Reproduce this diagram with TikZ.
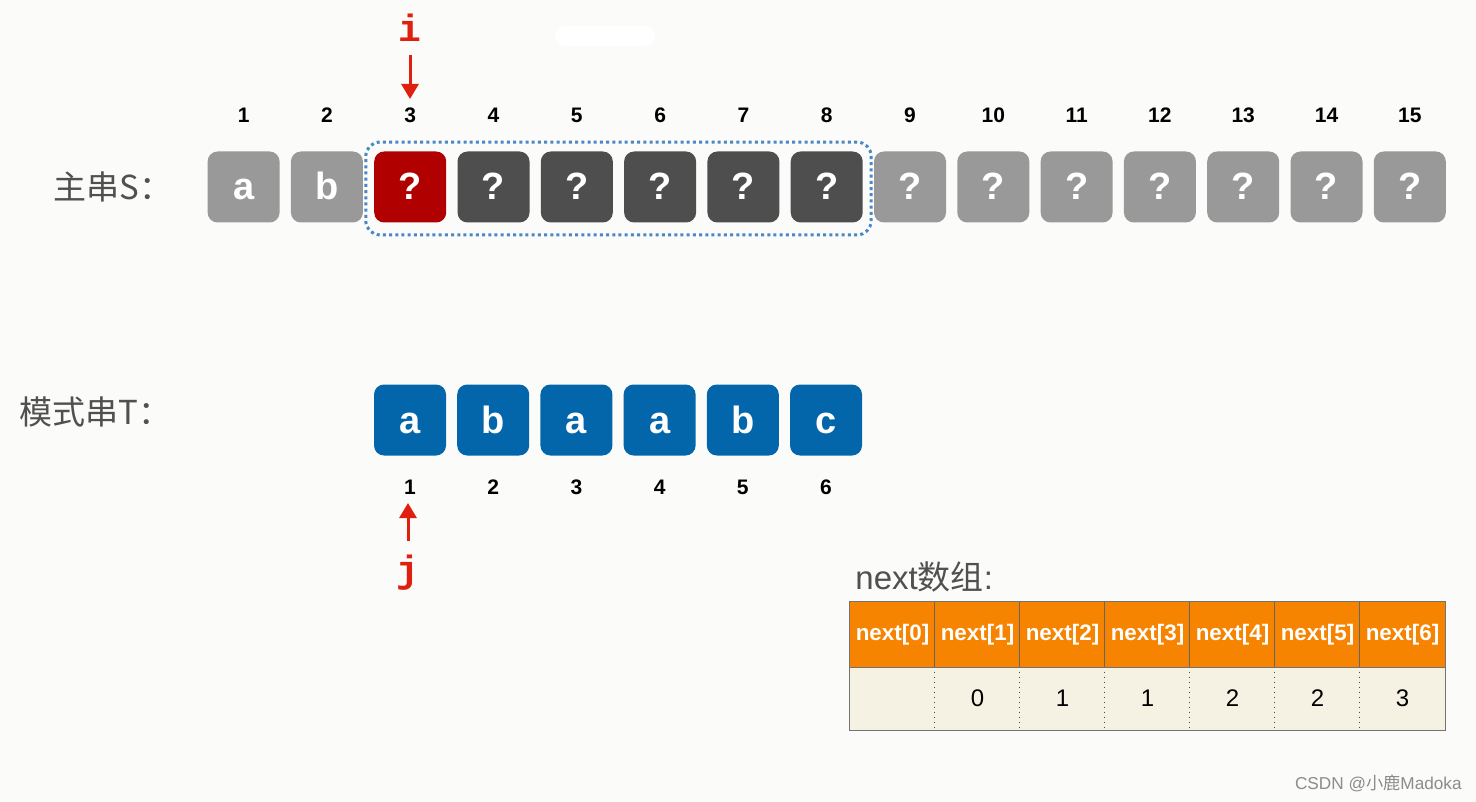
\documentclass[tikz,border=0pt]{standalone}
\usepackage{fontspec}
\setmainfont{Liberation Sans}
\newfontfamily\cjk{Noto Sans CJK SC}
\newfontfamily\monof{Liberation Mono}
\usetikzlibrary{fit,arrows.meta}
\definecolor{bg}{HTML}{FBFBF9}
\definecolor{lgray}{HTML}{999999}
\definecolor{dgray}{HTML}{4E4E4E}
\definecolor{dred}{HTML}{B10000}
\definecolor{tblue}{HTML}{0466AA}
\definecolor{wblue}{HTML}{4A87C6}
\definecolor{arred}{HTML}{E0200E}
\definecolor{orng}{HTML}{F78400}
\definecolor{beige}{HTML}{F6F2E3}
\definecolor{txtg}{HTML}{505050}
\tikzset{
  cell/.style={rounded corners=5pt, minimum width=36pt, minimum height=35.5pt, inner sep=0pt,
    text height=13pt, text depth=0pt,
    text=white, font=\bfseries\fontsize{19}{19}\selectfont},
  num/.style={font=\bfseries\fontsize{10.5}{10.5}\selectfont, inner sep=0pt},
  lbl/.style={font=\cjk\fontsize{16.5}{16.5}\selectfont, text=txtg, inner sep=0pt},
  ptr/.style={font=\monof\bfseries\fontsize{19}{19}\selectfont, text=arred, inner sep=0pt},
  arr/.style={draw=arred, line width=1.5pt, -{Triangle[width=8.5pt,length=7.5pt]}},
  hd/.style={fill=orng, minimum width=42.5pt, minimum height=32.5pt, inner sep=0pt,
    text=white, font=\bfseries\fontsize{11.2}{11.2}\selectfont},
  bd/.style={fill=beige, minimum width=42.5pt, minimum height=31.5pt, inner sep=0pt,
    font=\fontsize{12}{12}\selectfont},
}
\begin{document}
\begin{tikzpicture}[x=0.5pt,y=-0.5pt]
\fill[bg] (0,0) rectangle (1476,802);
\useasboundingbox (0,0) rectangle (1476,802);
\fill[white, rounded corners=5pt] (555,26) rectangle (655,46);

% main string S
\node[lbl, anchor=west] (labS) at (53,187) {主串S：};
\foreach \k/\t/\c in {1/a/lgray,2/b/lgray,3/?/dred,4/?/dgray,5/?/dgray,6/?/dgray,7/?/dgray,8/?/dgray,
  9/?/lgray,10/?/lgray,11/?/lgray,12/?/lgray,13/?/lgray,14/?/lgray,15/?/lgray}{
  \node[cell, fill=\c] (s\k) at ({243.6+83.3*(\k-1)},187) {\t};
  \node[num] (n\k) at ({243.6+83.3*(\k-1)},115) {\k};
}
\node[draw=wblue, line width=1.5pt, dash pattern=on 1.5pt off 1.6pt, rounded corners=7pt,
  inner xsep=4pt, inner ysep=5.25pt, yshift=-0.75pt, fit=(s3)(s8)] (win) {};

% pointer i
\node[ptr] (i) at (410,28) {i};
\coordinate (itail) at (410,55);
\coordinate (itip) at (410,99);
\draw[arr] (itail) -- (itip);

% pattern T
\node[lbl, anchor=west] (labT) at (19,412) {模式串T：};
\foreach \k/\t in {1/a,2/b,3/a,4/a,5/b,6/c}{
  \node[cell, fill=tblue] (t\k) at ({410+83.2*(\k-1)},420) {\t};
  \node[num] (m\k) at ({410+83.2*(\k-1)},487) {\k};
}
% pointer j
\node[ptr] (j) at (408,573) {j};
\coordinate (jtail) at (408,541);
\coordinate (jtip) at (408,503);
\draw[arr] (jtail) -- (jtip);

% next array
\node[font=\fontsize{16.5}{16.5}\selectfont, text=txtg, anchor=west, inner sep=0pt] (nlab) at (855,577) {next{\cjk 数组}:};
\foreach \k/\v in {0/{},1/0,2/1,3/1,4/2,5/2,6/3}{
  \node[hd] (h\k) at ({892.5+85*\k},634.5) {next[\k]};
  \node[bd] (v\k) at ({892.5+85*\k},698.5) {\v};
}
\foreach \k in {1,...,6}{
  \draw[draw=black!60, line width=0.5pt] (h\k.north west) -- (h\k.south west);
  \draw[draw=black!70, line width=0.5pt, dotted] (v\k.north west) -- (v\k.south west);
}
\draw[draw=black!55, line width=0.5pt] (h0.south west) -- (h6.south east);
\draw[draw=black!55, line width=0.6pt] (h0.north west) rectangle (v6.south east);

% watermark
\node[font=\fontsize{8.6}{8.6}\selectfont, text=black!45, anchor=east, inner sep=0pt] (wm) at (1462,783) {CSDN @{\cjk 小鹿}Madoka};
\end{tikzpicture}
\end{document}
